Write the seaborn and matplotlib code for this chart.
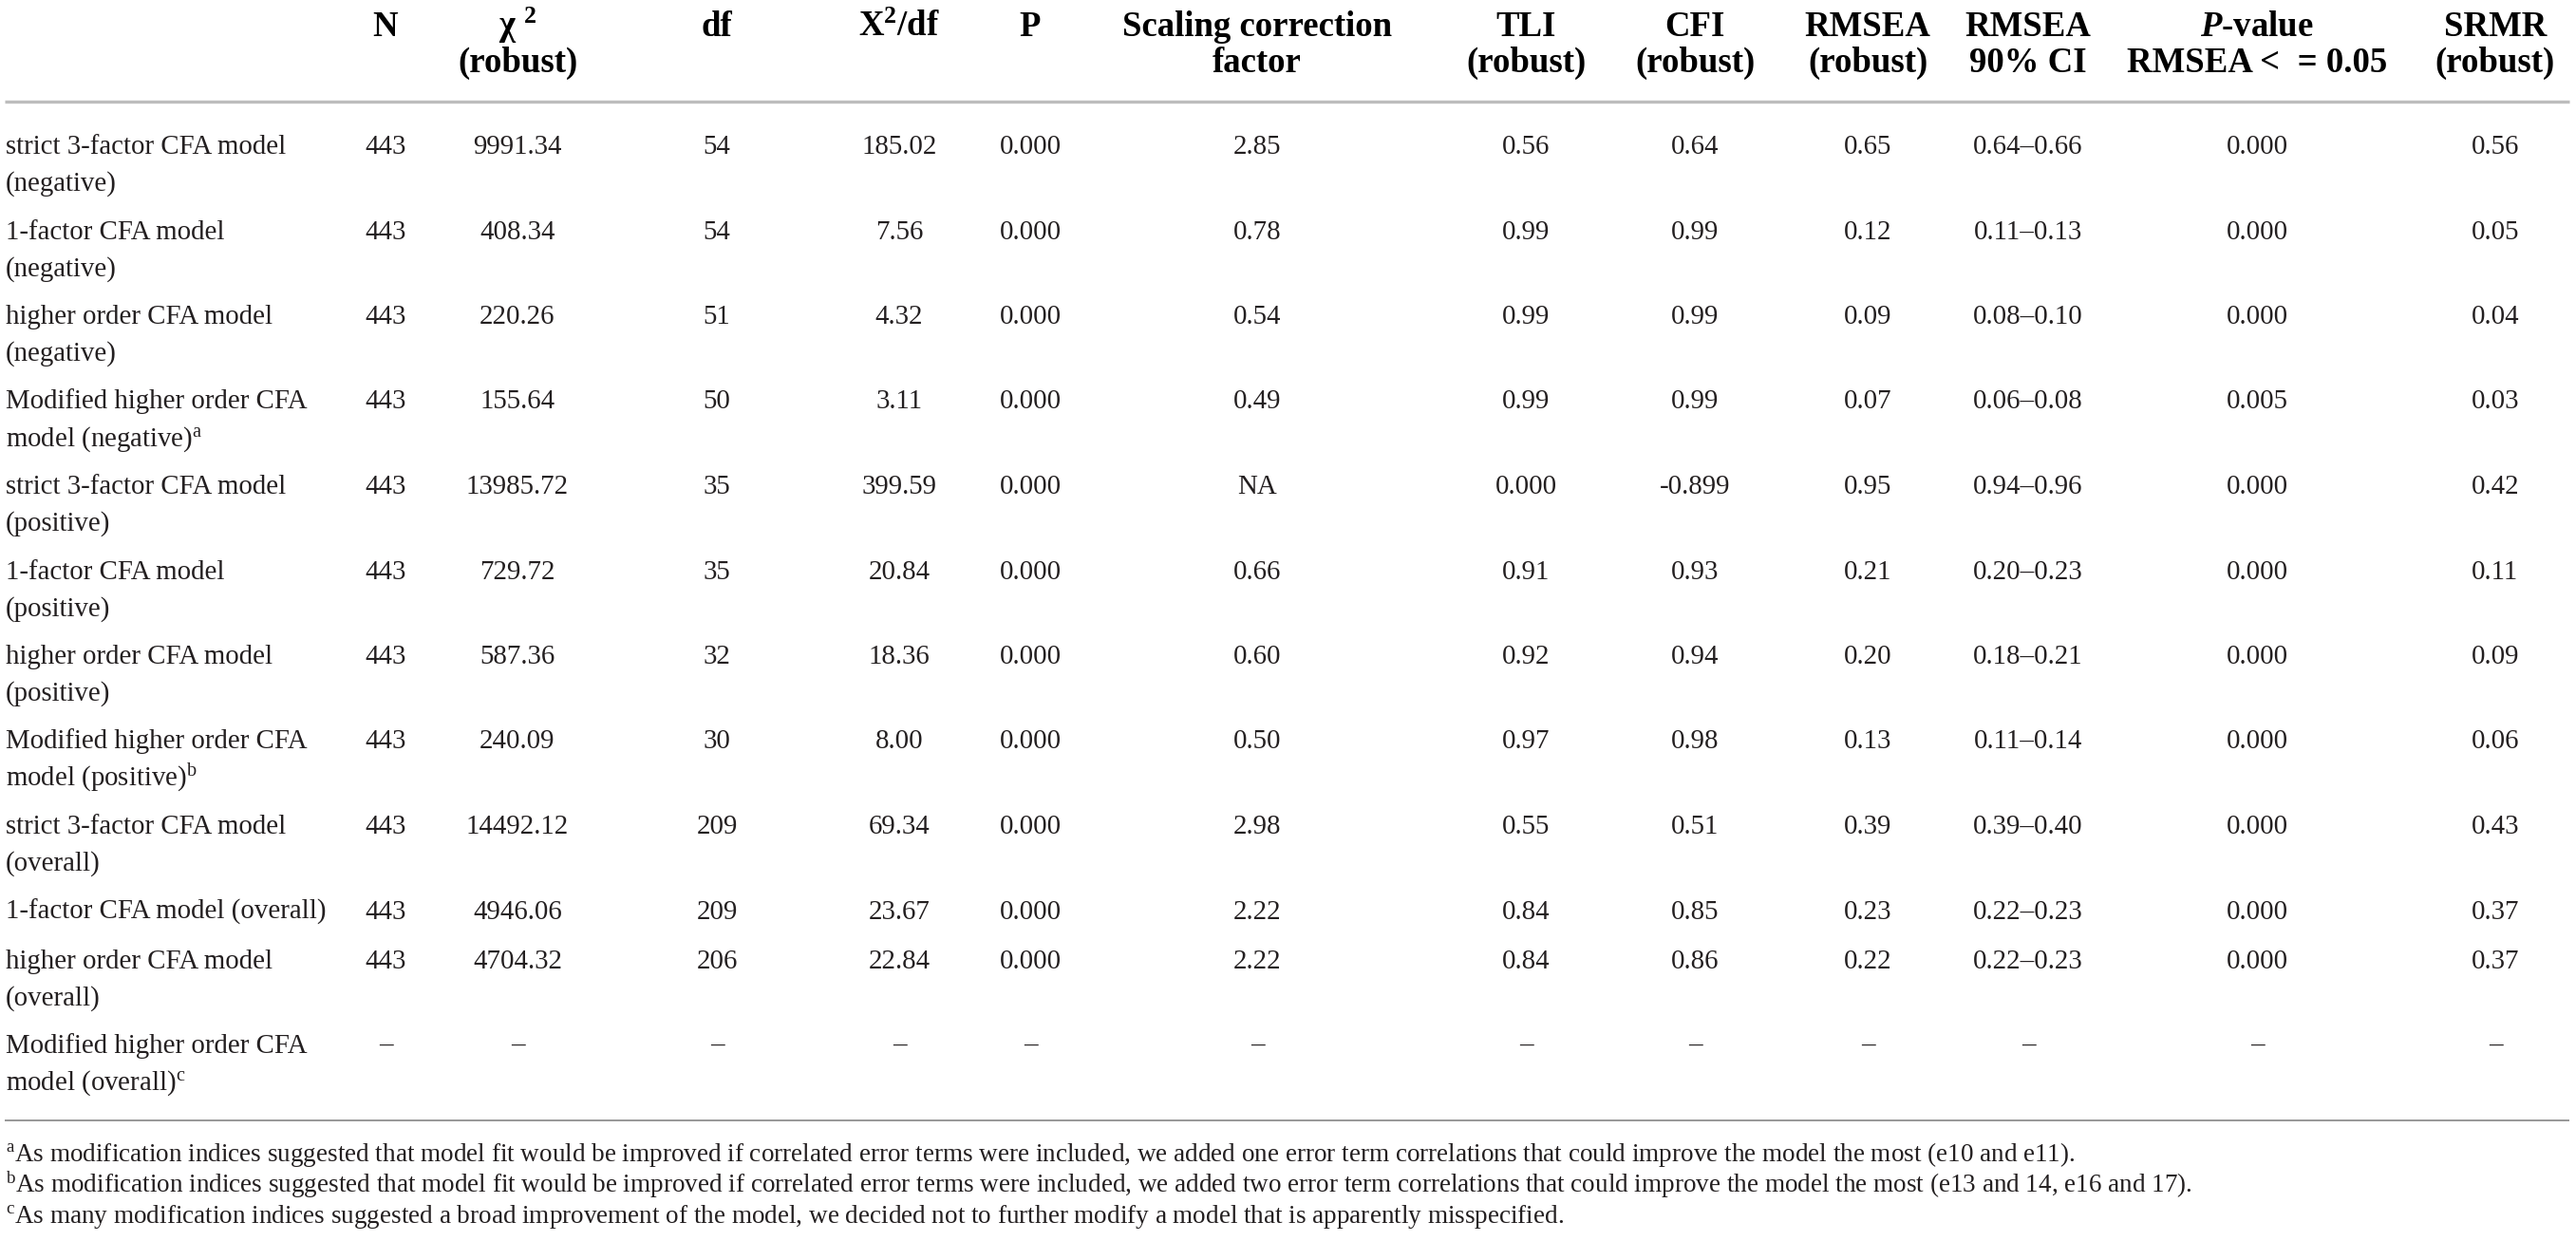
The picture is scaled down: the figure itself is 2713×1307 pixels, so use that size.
import numpy as np
import pandas as pd
import seaborn as sns
import matplotlib.pyplot as plt

# table content
row_labels = [
    ["strict 3-factor CFA model", "(negative)"],
    ["1-factor CFA model", "(negative)"],
    ["higher order CFA model", "(negative)"],
    ["Modified higher order CFA", r"model (negative)$\mathregular{^{a}}$"],
    ["strict 3-factor CFA model", "(positive)"],
    ["1-factor CFA model", "(positive)"],
    ["higher order CFA model", "(positive)"],
    ["Modified higher order CFA", r"model (positive)$\mathregular{^{b}}$"],
    ["strict 3-factor CFA model", "(overall)"],
    ["1-factor CFA model (overall)"],
    ["higher order CFA model", "(overall)"],
    ["Modified higher order CFA", r"model (overall)$\mathregular{^{c}}$"],
]
headers = [
    ["N"], [r"χ $^{\mathbf{2}}$", "(robust)"], ["df"], [r"X$^{\mathbf{2}}$/df"], ["P"],
    ["Scaling correction", "factor"], ["TLI", "(robust)"], ["CFI", "(robust)"],
    ["RMSEA", "(robust)"], ["RMSEA", "90% CI"], [r"$\mathit{P}$-value", "RMSEA <  = 0.05"],
    ["SRMR", "(robust)"],
]
D = "–"
n_obs = ["443"] * 11 + [D]
chi2 = ["9991.34", "408.34", "220.26", "155.64", "13985.72", "729.72",
        "587.36", "240.09", "14492.12", "4946.06", "4704.32", D]
dfs = ["54", "54", "51", "50", "35", "35", "32", "30", "209", "209", "206", D]
chi2_df = ["185.02", "7.56", "4.32", "3.11", "399.59", "20.84", "18.36",
           "8.00", "69.34", "23.67", "22.84", D]
p_vals = ["0.000"] * 11 + [D]
scaling = ["2.85", "0.78", "0.54", "0.49", "NA", "0.66", "0.60", "0.50",
           "2.98", "2.22", "2.22", D]
tli = ["0.56", "0.99", "0.99", "0.99", "0.000", "0.91", "0.92", "0.97",
       "0.55", "0.84", "0.84", D]
cfi = ["0.64", "0.99", "0.99", "0.99", "-0.899", "0.93", "0.94", "0.98",
       "0.51", "0.85", "0.86", D]
rmsea = ["0.65", "0.12", "0.09", "0.07", "0.95", "0.21", "0.20", "0.13",
         "0.39", "0.23", "0.22", D]
rmsea_ci = ["0.64–0.66", "0.11–0.13", "0.08–0.10", "0.06–0.08", "0.94–0.96",
            "0.20–0.23", "0.18–0.21", "0.11–0.14", "0.39–0.40", "0.22–0.23",
            "0.22–0.23", D]
p_close = ["0.000", "0.000", "0.000", "0.005", "0.000", "0.000", "0.000",
           "0.000", "0.000", "0.000", "0.000", D]
srmr = ["0.56", "0.05", "0.04", "0.03", "0.42", "0.11", "0.09", "0.06",
        "0.43", "0.37", "0.37", D]
footnotes = [
    r"$\mathregular{^{a}}$As modification indices suggested that model fit would be improved if correlated error terms were included, we added one error term correlations that could improve the model the most (e10 and e11).",
    r"$\mathregular{^{b}}$As modification indices suggested that model fit would be improved if correlated error terms were included, we added two error term correlations that could improve the model the most (e13 and 14, e16 and 17).",
    r"$\mathregular{^{c}}$As many modification indices suggested a broad improvement of the model, we decided not to further modify a model that is apparently misspecified.",
]

columns = [n_obs, chi2, dfs, chi2_df, p_vals, scaling, tli, cfi, rmsea,
           rmsea_ci, p_close, srmr]
col_x = [406, 545, 755, 947, 1085, 1324, 1607, 1785, 1967, 2136, 2377, 2628]

sns.set_theme(style="white")
plt.rcParams["font.family"] = ["Liberation Serif", "DejaVu Serif"]
plt.rcParams["mathtext.fontset"] = "custom"
plt.rcParams["mathtext.rm"] = "Liberation Serif"
plt.rcParams["mathtext.it"] = "Liberation Serif:italic:bold"
plt.rcParams["mathtext.bf"] = "Liberation Serif:bold"

W, H = 2713, 1307
fig = plt.figure(figsize=(W / 100, H / 100), dpi=100)
ax = fig.add_axes([0, 0, 1, 1])
ax.set_xlim(0, W)
ax.set_ylim(H, 0)
ax.axis("off")

body_fs = 20.8
head_fs = 26.5
note_fs = 19.5
txt_color = "#231f20"

# header
for x, lines in zip(col_x, headers):
    for k, line in enumerate(lines):
        ax.text(x, 38 + 38 * k, line, ha="center", va="baseline",
                fontsize=head_fs, fontweight="bold", color="black")

ax.hlines(107, 5, 2706, color="#bdbdbd", lw=2.4)

# body rows
base = 162
for i, lines in enumerate(row_labels):
    for k, line in enumerate(lines):
        ax.text(6, base + 39 * k, line, ha="left", va="baseline",
                fontsize=body_fs, color=txt_color)
    for x, col in zip(col_x, columns):
        ax.text(x, base, col[i], ha="center", va="baseline",
                fontsize=body_fs, color=txt_color)
    base += 89.5 if len(lines) > 1 else 52

ax.hlines(1179.5, 5, 2706, color="#7a7a7a", lw=1.1)

for j, note in enumerate(footnotes):
    ax.text(6, 1223 + 32.5 * j, note, ha="left", va="baseline",
            fontsize=note_fs, color=txt_color)

fig.savefig("out.png", dpi=100, facecolor="white")
